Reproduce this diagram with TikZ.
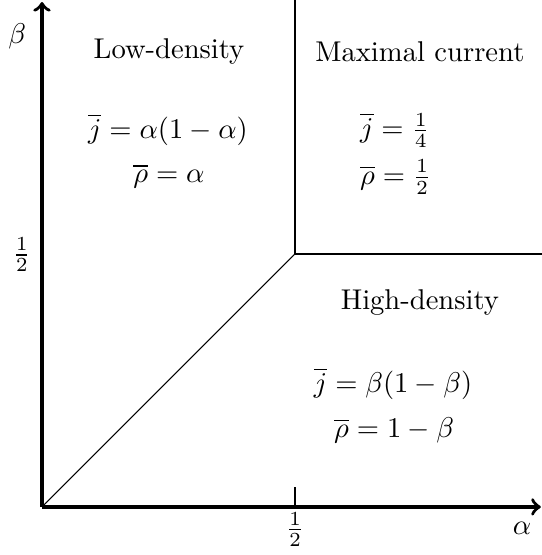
\documentclass[tikz,border=0pt]{standalone}
\usepackage{amsmath}
\begin{document}
\begin{tikzpicture}[x=6.22cm, y=6.22cm,
    axis/.style={->, very thick},
    border/.style={thin},
    phase/.style={align=center},
    eq/.style={inner sep=1pt}]
    \useasboundingbox (-0.083,-0.095) rectangle (0.988,1.002);

    % Corner points
    \coordinate (O) at (0,0);
    \coordinate (C) at (0.5,0.5);
    \coordinate (Ctop) at (0.5,1.002);
    \coordinate (Cright) at (0.988,0.5);

    % Axes
    \draw[axis] (O) -- (0.986,0) coordinate (xend);
    \draw[axis] (O) -- (0,0.998) coordinate (yend);
    \node (alpha) at (0.949,-0.042) {$\alpha$};
    \node (beta) at (-0.049,0.93) {$\beta$};

    % Ticks
    \draw (0.5,0) -- (0.5,0.04);
    \node (xhalf) at (0.5,-0.045) {$\frac{1}{2}$};
    \node (yhalf) at (-0.04,0.498) {$\frac{1}{2}$};

    % Phase boundaries
    \draw[border] (O) -- (C);
    \draw[border] (C) -- (Ctop);
    \draw[border] (C) -- (Cright);

    % Low-density phase
    \node[phase] (ldname) at (0.251,0.90) {Low-density};
    \node[eq] (ldj) at (0.249,0.745) {$\overline{j} = \alpha(1-\alpha)$};
    \node[eq] (ldrho) at (0.251,0.654) {$\overline{\rho} = \alpha$};

    % Maximal current phase
    \node[phase] (mcname) at (0.747,0.90) {Maximal current};
    \node[eq, anchor=west] (mcj) at (0.622,0.745) {$\overline{j} = \frac{1}{4}$};
    \node[eq, anchor=west] (mcrho) at (0.622,0.652) {$\overline{\rho} = \frac{1}{2}$};

    % High-density phase
    \node[phase] (hdname) at (0.747,0.405) {High-density};
    \node[eq] (hdj) at (0.694,0.243) {$\overline{j} = \beta(1-\beta)$};
    \node[eq] (hdrho) at (0.696,0.152) {$\overline{\rho} = 1-\beta$};
\end{tikzpicture}
\end{document}
